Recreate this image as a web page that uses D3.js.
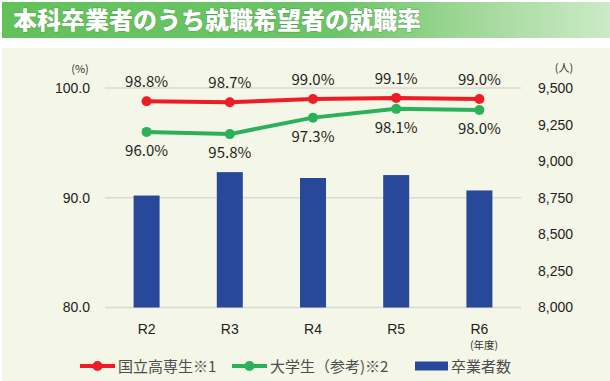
<!DOCTYPE html>
<html><head><meta charset="utf-8">
<script src="https://cdn.jsdelivr.net/npm/d3@7"></script>
<style>body{margin:0;background:#fff;}svg{display:block;font-family:"Noto Sans CJK JP","Noto Sans",sans-serif;}</style>
</head><body><svg id="c" width="610" height="381"></svg>
<script>
const title = "本科卒業者のうち就職希望者の就職率";
const categories = ["R2","R3","R4","R5","R6"];
const kosenRate = [98.8, 98.7, 99.0, 99.1, 99.0];
const univRate = [96.0, 95.8, 97.3, 98.1, 98.0];
const graduates = [8765, 8925, 8885, 8905, 8800];
const leftTicks = [80, 90, 100];
const rightTicks = [8000, 8250, 8500, 8750, 9000, 9250, 9500];
const seriesNames = ["国立高専生※1", "大学生（参考)※2", "卒業者数"];

const svg = d3.select("#c");
const defs = svg.append("defs");
const g = defs.append("linearGradient").attr("id","tg").attr("x1","0").attr("x2","1");
g.append("stop").attr("offset","0%").attr("stop-color","#62C15B");
g.append("stop").attr("offset","55%").attr("stop-color","#6CC566");
g.append("stop").attr("offset","80%").attr("stop-color","#A6DA9E");
g.append("stop").attr("offset","100%").attr("stop-color","#CBEAC7");
svg.append("rect").attr("x",2).attr("y",2).attr("width",608).attr("height",36).attr("fill","url(#tg)");
svg.append("text").attr("x",13).attr("y",29).attr("fill","#fff").attr("font-size",24).attr("font-weight",900)
  .attr("stroke","#3d8a3a").attr("stroke-width",0.6).attr("paint-order","stroke").text(title);
svg.append("rect").attr("x",2).attr("y",48).attr("width",608).attr("height",333).attr("fill","#F4F6E7");

const x = d3.scaleBand().domain(categories).range([105,521]).paddingInner(0).paddingOuter(0);
const yL = d3.scaleLinear().domain([80,100]).range([307.5,88]);
const yR = d3.scaleLinear().domain([8000,9500]).range([307.5,88]);

// gridlines
svg.append("g").selectAll("line").data(leftTicks).join("line")
  .attr("x1",105).attr("x2",521).attr("y1",d=>yL(d)).attr("y2",d=>yL(d))
  .attr("stroke","#D9D9D6").attr("stroke-width",1.5);

// left axis
const la = svg.append("g").attr("transform","translate(90,0)")
  .call(d3.axisLeft(yL).tickValues(leftTicks).tickFormat(d3.format(".1f")).tickSize(0).tickPadding(0));
la.select(".domain").remove();
la.selectAll("text").attr("font-size",14).attr("fill","#231F20").attr("font-family","inherit");
svg.append("text").attr("x",80).attr("y",73).attr("text-anchor","middle").attr("font-size",11).attr("fill","#333").text("(%)");

// right axis
const ra = svg.append("g").attr("transform","translate(538,0)")
  .call(d3.axisRight(yR).tickValues(rightTicks).tickFormat(d3.format(",")).tickSize(0).tickPadding(0));
ra.select(".domain").remove();
ra.selectAll("text").attr("font-size",14).attr("fill","#231F20").attr("font-family","inherit");
svg.append("text").attr("x",564).attr("y",72).attr("text-anchor","middle").attr("font-size",11).attr("fill","#333").text("(人)");

// bars
const bw = 26;
svg.append("g").selectAll("rect").data(graduates).join("rect")
  .attr("x",(d,i)=>x(categories[i])+x.bandwidth()/2-bw/2).attr("width",bw)
  .attr("y",d=>yR(d)).attr("height",d=>yR(8000)-yR(d)).attr("fill","#284899");

// x axis labels
const xa = svg.append("g").attr("transform","translate(0,334)")
  .call(d3.axisBottom(x).tickSize(0).tickPadding(0));
xa.select(".domain").remove();
xa.selectAll("text").attr("font-size",14).attr("fill","#231F20").attr("font-family","inherit").attr("y",0).attr("dy",0);
svg.append("text").attr("x",484).attr("y",349).attr("text-anchor","middle").attr("font-size",10.5).attr("fill","#333").text("(年度)");

const cx = c => x(c)+x.bandwidth()/2;
function drawLine(vals, color){
  const line = d3.line().x((d,i)=>cx(categories[i])).y(d=>yL(d));
  svg.append("path").datum(vals).attr("d",line).attr("fill","none").attr("stroke",color).attr("stroke-width",4).attr("stroke-linejoin","round");
  svg.append("g").selectAll("circle").data(vals).join("circle")
    .attr("cx",(d,i)=>cx(categories[i])).attr("cy",d=>yL(d)).attr("r",5).attr("fill",color);
}
drawLine(univRate, "#2DB05A");
drawLine(kosenRate, "#EE1C25");

// data labels
svg.append("g").selectAll("text").data(kosenRate).join("text")
  .attr("x",(d,i)=>cx(categories[i])).attr("y",d=>yL(d)-14).attr("text-anchor","middle")
  .attr("font-size",15).attr("fill","#231F20").text(d=>d.toFixed(1)+"%");
svg.append("g").selectAll("text").data(univRate).join("text")
  .attr("x",(d,i)=>cx(categories[i])).attr("y",d=>yL(d)+24).attr("text-anchor","middle")
  .attr("font-size",15).attr("fill","#231F20").text(d=>d.toFixed(1)+"%");

// legend
const ly = 366;
const leg = svg.append("g");
[[80,"#EE1C25",0],[232,"#2DB05A",1]].forEach(([lx,col,i])=>{
  leg.append("line").attr("x1",lx).attr("x2",lx+35).attr("y1",ly).attr("y2",ly).attr("stroke",col).attr("stroke-width",4);
  leg.append("circle").attr("cx",lx+17.5).attr("cy",ly).attr("r",5).attr("fill",col);
  leg.append("text").attr("x",lx+38).attr("y",ly+5.5).attr("font-size",15).attr("fill","#4D4D4D").text(seriesNames[i]);
});
leg.append("rect").attr("x",415).attr("y",ly-4.5).attr("width",33).attr("height",9).attr("fill","#284899");
leg.append("text").attr("x",451).attr("y",ly+5.5).attr("font-size",15).attr("fill","#4D4D4D").text(seriesNames[2]);
</script></body></html>
